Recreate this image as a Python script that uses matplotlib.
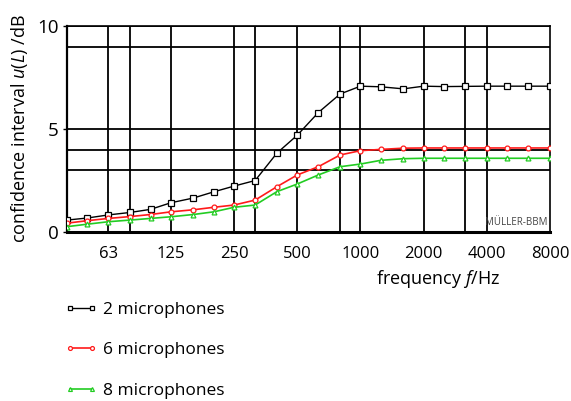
import numpy as np
import matplotlib
matplotlib.use("Agg")
import matplotlib.pyplot as plt

plt.rcParams['font.family'] = ['Open Sans', 'DejaVu Sans']
plt.rcParams['mathtext.fontset'] = 'custom'
plt.rcParams['mathtext.it'] = 'Open Sans:italic'
plt.rcParams['mathtext.rm'] = 'Open Sans'

# third-octave bands (Hz)
bands = [40, 50, 63, 80, 100, 125, 160, 200, 250, 315, 400, 500, 630, 800,
         1000, 1250, 1600, 2000, 2500, 3150, 4000, 5000, 6300, 8000]

mic2 = [0.58, 0.68, 0.83, 0.95, 1.1, 1.42, 1.65, 1.95, 2.23, 2.5, 3.83, 4.7,
        5.8, 6.7, 7.08, 7.05, 6.95, 7.08, 7.06, 7.07, 7.08, 7.08, 7.08, 7.08]
mic6 = [0.43, 0.55, 0.66, 0.75, 0.85, 0.98, 1.08, 1.2, 1.31, 1.55, 2.2, 2.77,
        3.17, 3.74, 3.95, 4.01, 4.07, 4.08, 4.08, 4.08, 4.08, 4.08, 4.08, 4.08]
mic8 = [0.26, 0.38, 0.5, 0.58, 0.66, 0.74, 0.85, 0.98, 1.2, 1.31, 1.96, 2.33,
        2.77, 3.17, 3.3, 3.48, 3.56, 3.58, 3.58, 3.58, 3.58, 3.58, 3.58, 3.58]

xticks = [63, 125, 250, 500, 1000, 2000, 4000, 8000]
vgrid = [63, 80, 125, 250, 315, 500, 800, 1000, 2000, 3150, 4000]
hgrid = [3, 4, 5, 9, 10]

fig = plt.figure(figsize=(5.71, 4.01), dpi=100)
ax = fig.add_axes([0.1173, 0.4214, 0.846, 0.5137])

for v in vgrid:
    ax.axvline(v, color='black', lw=1.3, zorder=1)
for h in hgrid:
    ax.axhline(h, color='black', lw=1.3, zorder=1)

ax.plot(bands, mic2, color='black', lw=1, marker='s', ms=3.8, mfc='white',
        mec='black', mew=0.9, label='2 microphones', zorder=3)
ax.plot(bands, mic6, color='#ff1a1a', lw=1.2, marker='o', ms=3.5, mfc='white',
        mec='#ff1a1a', mew=0.9, label='6 microphones', zorder=3)
ax.plot(bands, mic8, color='#22cc22', lw=1.2, marker='^', ms=3.5, mfc='white',
        mec='#22cc22', mew=0.9, label='8 microphones', zorder=3)

ax.set_xscale('log')
ax.set_xlim(40, 8000)
ax.set_ylim(0, 10)
ax.set_xticks(xticks)
ax.set_xticklabels([str(t) for t in xticks])
ax.xaxis.set_minor_locator(matplotlib.ticker.NullLocator())
ax.set_yticks([0, 5, 10])
ax.tick_params(axis='x', length=0, pad=10, labelsize=12)
ax.tick_params(axis='y', length=3, width=1, pad=3, labelsize=13.5)

for s in ['top', 'right']:
    ax.spines[s].set_linewidth(1.2)
ax.spines['left'].set_linewidth(1.6)
ax.spines['bottom'].set_linewidth(2.2)

ax.set_xlabel(r'frequency $f$/Hz', fontsize=13)
ax.xaxis.set_label_coords(0.768, -0.175)
ax.set_ylabel(r'confidence interval $u(L)$ /dB', fontsize=13)
ax.yaxis.set_label_coords(-0.076, 0.5)

ax.text(0.995, 0.02, 'MÜLLER-BBM', transform=ax.transAxes, ha='right',
        va='bottom', fontsize=7, color='#444444', zorder=4)

fig.legend(loc='upper left', bbox_to_anchor=(0.1138, 0.248), frameon=False,
           fontsize=12.5, labelspacing=1.4, handlelength=1.85,
           handletextpad=0.35, borderpad=0, borderaxespad=0,
           numpoints=2, markerscale=0.8)

fig.savefig('out.png', dpi=100)
